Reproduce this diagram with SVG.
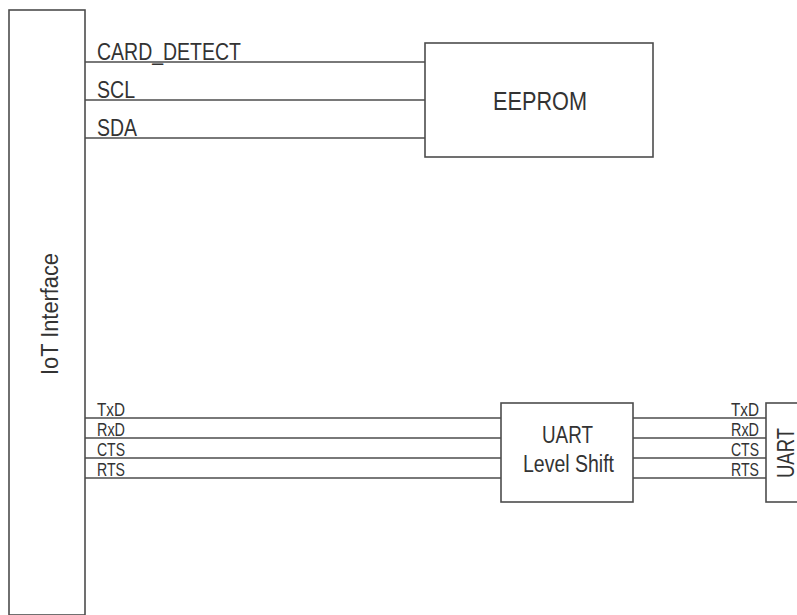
<svg xmlns="http://www.w3.org/2000/svg" width="797" height="615" viewBox="0 0 797 615">
<style>
.box{fill:#fff;stroke:#4d4d4d;stroke-width:1.6}
.wire{stroke:#4d4d4d;stroke-width:1.6;fill:none}
text{font-family:"Liberation Sans",Arial,sans-serif;fill:#333}
.big{font-size:23px}
.ee{font-size:25px}
.sig{font-size:23.5px}
.pin{font-size:17.5px}
</style>
<rect width="797" height="615" fill="#fff"/>
<g id="connectors">
<line class="wire" x1="85" y1="62" x2="425" y2="62"/>
<line class="wire" x1="85" y1="100" x2="425" y2="100"/>
<line class="wire" x1="85" y1="138" x2="425" y2="138"/>
<line class="wire" x1="85" y1="418" x2="501" y2="418"/>
<line class="wire" x1="85" y1="438" x2="501" y2="438"/>
<line class="wire" x1="85" y1="458" x2="501" y2="458"/>
<line class="wire" x1="85" y1="478" x2="501" y2="478"/>
<line class="wire" x1="633" y1="418" x2="766" y2="418"/>
<line class="wire" x1="633" y1="438" x2="766" y2="438"/>
<line class="wire" x1="633" y1="458" x2="766" y2="458"/>
<line class="wire" x1="633" y1="478" x2="766" y2="478"/>
<text class="sig" x="97" y="60" textLength="144" lengthAdjust="spacingAndGlyphs">CARD_DETECT</text>
<text class="sig" x="97" y="98" textLength="38" lengthAdjust="spacingAndGlyphs">SCL</text>
<text class="sig" x="97" y="136" textLength="40" lengthAdjust="spacingAndGlyphs">SDA</text>
<text class="pin" x="97" y="416" textLength="28" lengthAdjust="spacingAndGlyphs">TxD</text>
<text class="pin" x="97" y="436" textLength="28" lengthAdjust="spacingAndGlyphs">RxD</text>
<text class="pin" x="97" y="456" textLength="28" lengthAdjust="spacingAndGlyphs">CTS</text>
<text class="pin" x="97" y="476" textLength="28" lengthAdjust="spacingAndGlyphs">RTS</text>
<text class="pin" x="731" y="416" textLength="28" lengthAdjust="spacingAndGlyphs">TxD</text>
<text class="pin" x="731" y="436" textLength="28" lengthAdjust="spacingAndGlyphs">RxD</text>
<text class="pin" x="731" y="456" textLength="28" lengthAdjust="spacingAndGlyphs">CTS</text>
<text class="pin" x="731" y="476" textLength="28" lengthAdjust="spacingAndGlyphs">RTS</text>
</g>
<g id="iot">
<rect class="box" x="9" y="10" width="76" height="605"/>
<text class="big" transform="translate(58,314) rotate(-90)" text-anchor="middle" textLength="122" lengthAdjust="spacingAndGlyphs">IoT Interface</text>
</g>
<g id="eeprom">
<rect class="box" x="425" y="43" width="228" height="114"/>
<text class="ee" x="493" y="110" textLength="94" lengthAdjust="spacingAndGlyphs">EEPROM</text>
</g>
<g id="levelshift">
<rect class="box" x="501" y="403" width="132" height="99"/>
<text class="big" x="542" y="443" textLength="51" lengthAdjust="spacingAndGlyphs">UART</text>
<text class="big" x="523" y="472" textLength="91" lengthAdjust="spacingAndGlyphs">Level Shift</text>
</g>
<g id="uart">
<rect class="box" x="766" y="403" width="40" height="99"/>
<text class="big" transform="translate(794,478) rotate(-90)" textLength="50" lengthAdjust="spacingAndGlyphs">UART</text>
</g>
</svg>
